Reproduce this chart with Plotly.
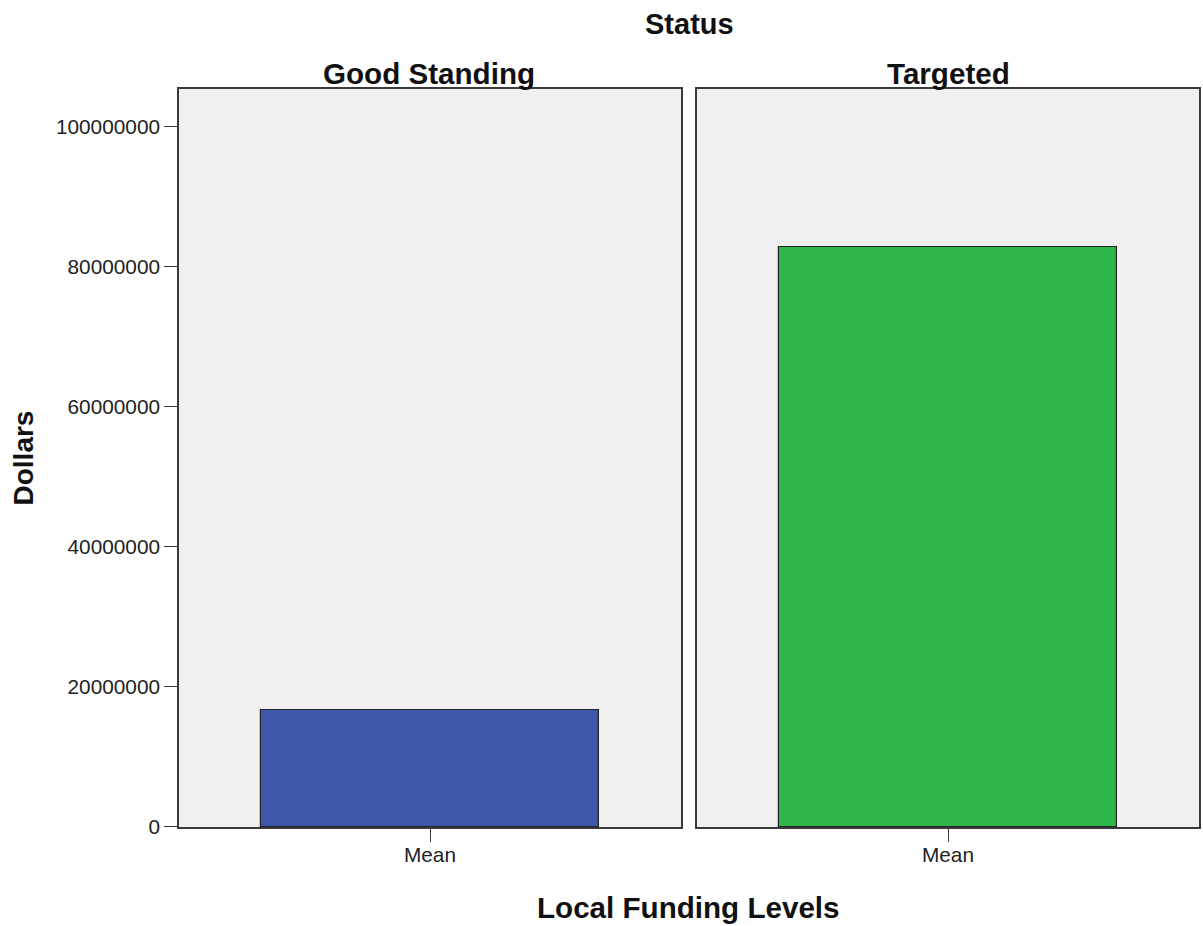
import plotly.graph_objects as go
from plotly.subplots import make_subplots

W, H = 1203, 926
# vertical extent the page actually renders the figure into
H_VIEW = 914

# Panels (one per Status group) and the single statistic shown in each
status_groups = ["Good Standing", "Targeted"]
statistic = ["Mean"]
mean_local_funding = [16.7e6, 82.8e6]
bar_colors = ["#3d57a9", "#2eb84b"]

y_ticks = [0, 20000000, 40000000, 60000000, 80000000, 100000000]
y_tick_text = ["0", "20000000", "40000000", "60000000", "80000000", "100000000"]

FONT = "Liberation Sans, Arial, sans-serif"
LINE = "#3a3a3a"
TICK_FONT = dict(family=FONT, size=20.8, color="#222222")

fig = make_subplots(rows=1, cols=2, shared_yaxes=True)

for i, (grp, val, col) in enumerate(zip(status_groups, mean_local_funding, bar_colors)):
    fig.add_trace(
        go.Bar(
            x=statistic,
            y=[val],
            width=0.675,
            marker=dict(color=col, line=dict(color="#222222", width=1.2)),
            showlegend=False,
            hoverinfo="y",
        ),
        row=1, col=i + 1,
    )

def px_x(p):
    return p / W

def px_y(p):
    return 1 - p / H_VIEW

x_domains = [[px_x(179), px_x(681)], [px_x(697), px_x(1199)]]
y_domain = [px_y(826), px_y(89)]

for i in range(2):
    xa = "xaxis" if i == 0 else "xaxis2"
    ya = "yaxis" if i == 0 else "yaxis2"
    fig.layout[xa].update(
        domain=x_domains[i],
        range=[-0.5, 0.5],
        showline=True, mirror=True, linecolor=LINE, linewidth=1.6,
        ticks="outside", ticklen=13, tickwidth=1.2, tickcolor=LINE,
        ticklabelstandoff=-5,
        tickfont=TICK_FONT,
        showgrid=False, zeroline=False, fixedrange=True,
    )
    fig.layout[ya].update(
        domain=y_domain,
        range=[0, 105.3e6],
        showline=True, mirror=True, linecolor=LINE, linewidth=1.6,
        showgrid=False, zeroline=False, fixedrange=True,
    )

fig.layout.yaxis.update(
    tickmode="array", tickvals=y_ticks, ticktext=y_tick_text,
    ticks="outside", ticklen=13, tickwidth=1.2, tickcolor=LINE,
    tickfont=TICK_FONT,
)
fig.layout.yaxis2.update(ticks="", showticklabels=False)

annotations = [
    dict(text="<b>Status</b>", x=px_x(689), y=px_y(24), size=29),
    dict(text="<b>Good Standing</b>", x=px_x(429), y=px_y(73), size=29.6),
    dict(text="<b>Targeted</b>", x=px_x(948), y=px_y(73), size=29.6),
    dict(text="<b>Local Funding Levels</b>", x=px_x(688), y=px_y(907), size=29.6),
    dict(text="<b>Dollars</b>", x=px_x(24), y=px_y(458), size=28, textangle=-90),
]
for a in annotations:
    size = a.pop("size")
    a.update(xref="paper", yref="paper", showarrow=False, xanchor="center", yanchor="middle",
             font=dict(family=FONT, size=size, color="#111111"))

fig.update_layout(
    width=W, height=H,
    margin=dict(l=0, r=0, t=0, b=0),
    paper_bgcolor="white",
    plot_bgcolor="#f0f0f0",
    annotations=annotations,
    bargap=0,
)

fig.write_html("out.html")
